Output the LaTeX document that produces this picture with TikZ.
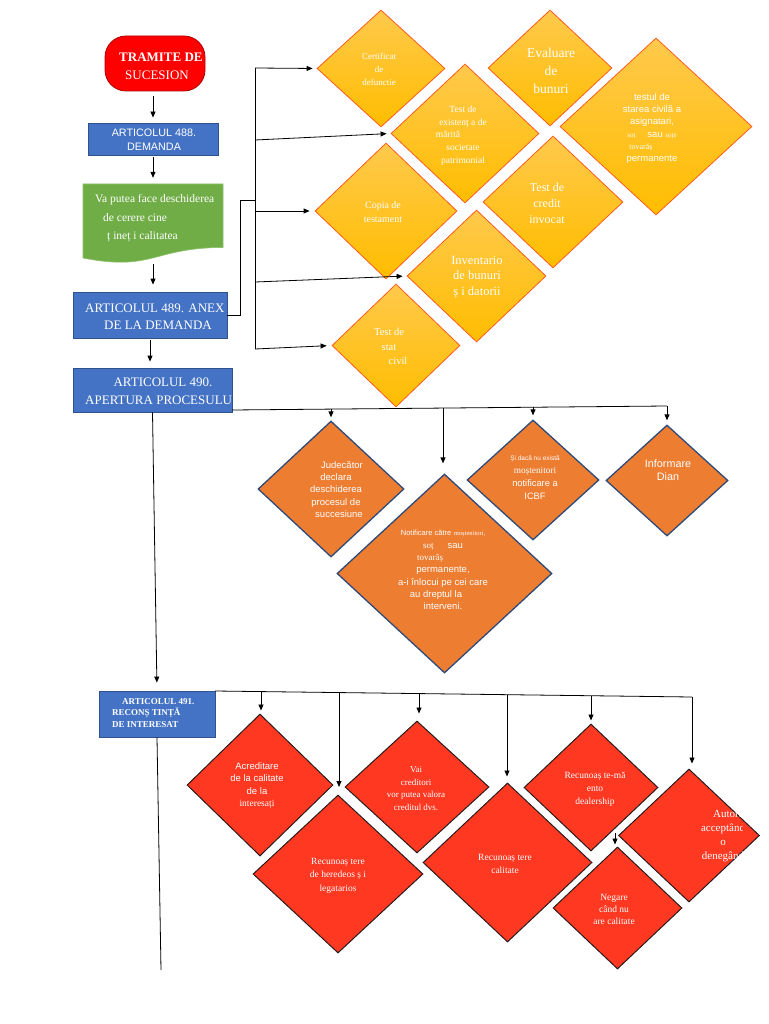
\documentclass[tikz,border=0pt]{standalone}
\usepackage{fontspec}
\setmainfont{Liberation Serif}
\setsansfont{Liberation Sans}
\usetikzlibrary{shapes.geometric,arrows.meta}
\definecolor{bluebox}{HTML}{4472C4}
\definecolor{blueedge}{HTML}{2F528F}
\definecolor{greenbox}{HTML}{70AD47}
\definecolor{greenedge}{HTML}{8CC168}
\definecolor{yelTop}{HTML}{FFC94C}
\definecolor{yelBot}{HTML}{FFBD00}
\definecolor{yelEdge}{HTML}{FF5A1E}
\definecolor{orgFill}{HTML}{ED7D31}
\definecolor{orgEdge}{HTML}{2F4A78}
\definecolor{redFill}{HTML}{FF3822}
\definecolor{redEdge}{HTML}{2A1A1A}
\definecolor{tramRed}{HTML}{FF0000}
\definecolor{tramEdge}{HTML}{B00000}
\tikzset{
  bluebx/.style={rectangle, fill=bluebox, draw=blueedge, line width=0.8pt, inner sep=0},
  ydiam/.style={diamond, inner sep=0, top color=yelTop, bottom color=yelBot, draw=yelEdge, line width=0.8pt},
  odiam/.style={diamond, inner sep=0, fill=orgFill, draw=orgEdge, line width=1.3pt},
  rdiam/.style={diamond, inner sep=0, fill=redFill, draw=redEdge, line width=1pt},
  txt/.style={text=white, align=center, inner sep=0},
  conn/.style={line width=0.8pt, draw=black},
  arr/.style={conn, -{Triangle[length=6pt,width=5pt]}},
}
\begin{document}
\begin{tikzpicture}[x=1pt,y=-1pt]
\useasboundingbox (0,0) rectangle (768,1024);

% ---------- left column ----------
\node[rectangle, rounded corners=21pt, fill=tramRed, draw=tramEdge, line width=0.8pt,
      minimum width=100pt, minimum height=55pt, inner sep=0] (tram) at (155,63.5) {};
\begin{scope}
  \clip (105,36) rectangle (205,91);
  \node[txt, anchor=west, font=\bfseries\fontsize{13}{15}\selectfont] (tTramA) at (119,57) {TRAMITE DE};
  \node[txt, font=\fontsize{13}{15}\selectfont] (tTramB) at (157,75) {SUCESION};
\end{scope}

\node[bluebx, minimum width=130pt, minimum height=32pt] (b488) at (153,139) {};
\node[txt, font=\sffamily\fontsize{10.8}{14}\selectfont] (t488) at (154,140) {ARTICOLUL 488.\\DEMANDA};

\path[fill=greenbox, draw=greenedge, line width=0.6pt]
  (83,184) -- (223,184) -- (223,247.5) .. controls (153,247.5) and (153,271.7) .. (83,258) -- cycle;
\node[inner sep=0, minimum width=140pt, minimum height=78pt] (doc) at (153,223) {};
\node[txt, align=left, anchor=west, font=\fontsize{11.5}{18.5}\selectfont] (tDoc) at (95,218.5)
  {Va putea face deschiderea\\\mbox{\hspace{8pt}de cerere cine}\\\mbox{\hspace{12pt}ț ineț i calitatea}};

\node[bluebx, minimum width=154pt, minimum height=46pt] (b489) at (150,315) {};
\begin{scope}
  \clip (73,292) rectangle (227,338);
  \node[txt, anchor=west, font=\fontsize{13}{15}\selectfont] (t489a) at (85,308) {ARTICOLUL 489. ANEX};
  \node[txt, font=\fontsize{13}{15}\selectfont] (t489b) at (158,325) {DE LA DEMANDA};
\end{scope}

\node[bluebx, minimum width=159pt, minimum height=44pt] (b490) at (152.5,390) {};
\begin{scope}
  \clip (73,368) rectangle (232,412);
  \node[txt, font=\fontsize{13}{15}\selectfont] (t490a) at (163,382) {ARTICOLUL 490.};
  \node[txt, anchor=west, font=\fontsize{13}{15}\selectfont] (t490b) at (85,400) {APERTURA PROCESULU};
\end{scope}

\node[bluebx, minimum width=116pt, minimum height=46pt] (b491) at (157,714) {};
\node[txt, align=left, anchor=west, font=\bfseries\fontsize{9}{11.5}\selectfont] (t491) at (112,713)
  {\mbox{\hspace{10pt}ARTICOLUL 491.}\\RECONȘ TINȚĂ\\DE INTERESAT};

% vertical arrows of left column
\draw[arr, shorten <=5pt, shorten >=5pt] (b488.north |- tram.south) -- (b488.north);
\draw[arr, shorten <=2pt, shorten >=6pt] (b488.south) -- (b488.south |- doc.north);
\draw[arr, shorten <=2pt, shorten >=7pt] (doc.south) -- (doc.south |- b489.north);
\draw[arr, shorten <=2pt, shorten >=6pt] (b489.south) -- (b489.south |- b490.north);
\draw[arr, shorten >=8pt] (b490.south) -- (b491.north);
\coordinate (endV) at (161,970);
\draw[conn] (b491.south) -- (endV);

% ---------- yellow diamonds ----------
\node[ydiam, minimum width=128pt, minimum height=117pt] (cert) at (381,68.5) {};
\node[ydiam, minimum width=124pt, minimum height=116pt] (eval) at (550,68) {};
\node[ydiam, minimum width=148pt, minimum height=139pt] (exist) at (465,133.5) {};
\node[ydiam, minimum width=192pt, minimum height=177pt] (testul) at (656,126.5) {};
\node[ydiam, minimum width=142pt, minimum height=136pt] (copia) at (386,211) {};
\node[ydiam, minimum width=140pt, minimum height=132pt] (credit) at (553,202) {};
\node[ydiam, minimum width=139pt, minimum height=132pt] (inv) at (476.5,276) {};
\node[ydiam, minimum width=128pt, minimum height=123pt] (stat) at (396,345.5) {};

\node[txt, font=\fontsize{9}{13}\selectfont] (tCert) at (379,69) {Certificat\\de\\defunctie};
\node[txt, font=\fontsize{13.5}{18}\selectfont] (tEval) at (551,71) {Evaluare\\de\\bunuri};
\node[txt, font=\fontsize{9.5}{12.7}\selectfont] (tExist) at (463,135.5)
  {Test de\\existenț a de\\\mbox{mărită\hspace{30pt}}\\societate\\patrimonial};
\node[txt, font=\sffamily\fontsize{9.5}{12.2}\selectfont] (tTestul) at (652,128.5)
  {testul de\\starea civilă a\\asignatari,\\{\rmfamily\fontsize{7}{8}\selectfont soț}\hspace{12pt}sau {\rmfamily\fontsize{7}{8}\selectfont soțe}\\\mbox{{\rmfamily\fontsize{8}{9}\selectfont tovarăș}\hspace{22pt}}\\permanente};
\node[txt, font=\fontsize{10}{14.5}\selectfont] (tCopia) at (383,212) {Copia de\\testament};
\node[txt, font=\fontsize{12}{16}\selectfont] (tCredit) at (547,203) {Test de\\credit\\invocat};
\node[txt, font=\fontsize{12.5}{15.5}\selectfont] (tInv) at (477,277) {Inventario\\de bunuri\\ș i datorii};
\node[txt, font=\fontsize{10.5}{14.5}\selectfont] (tStat) at (389,346.5) {Test de\\stat\\\mbox{\hspace{18pt}civil}};

% bracket connectors to yellow diamonds
\coordinate (jA) at (240,200);
\coordinate (jB) at (255,200);
\coordinate (spTop) at (255,68);
\coordinate (sp2) at (255,140);
\coordinate (sp3) at (255,211);
\coordinate (sp4) at (255,282);
\coordinate (spBot) at (255,349);
\draw[conn] (b489.east) -| (jA) -- (jB);
\draw[conn] (spTop) -- (spBot);
\draw[arr, shorten >=4pt] (spTop) -- (cert.west);
\draw[arr, shorten >=4pt] (sp2) -- (exist.west);
\draw[arr, shorten >=5pt] (sp3) -- (copia.west);
\draw[arr, shorten >=4pt] (sp4) -- (inv.west);
\draw[arr, shorten >=5pt] (spBot) -- (stat.west);

% ---------- orange diamonds ----------
\node[odiam, minimum width=146pt, minimum height=136pt] (jud) at (331,489) {};
\node[odiam, minimum width=215pt, minimum height=199pt] (notif) at (444.5,573.5) {};
\node[odiam, minimum width=132pt, minimum height=120pt] (sida) at (533,480) {};
\node[odiam, minimum width=122pt, minimum height=111pt] (dian) at (667,480.5) {};

\node[txt, font=\sffamily\fontsize{9.5}{12.2}\selectfont] (tJud) at (336,489.5)
  {\mbox{\hspace{12pt}Judecător}\\declara\\deschiderea\\procesul de\\\mbox{\hspace{6pt}succesiune}};
\node[txt, font=\sffamily\fontsize{9.5}{12.3}\selectfont] (tNotif) at (443,570)
  {{\fontsize{7.5}{9}\selectfont Notificare către} {\rmfamily\fontsize{6.5}{8}\selectfont moștenitori,}\\
   \mbox{{\rmfamily\fontsize{9}{10}\selectfont soț}\hspace{14pt}sau}\\
   \mbox{{\rmfamily\fontsize{9}{10}\selectfont tovarăș}\hspace{26pt}}\\
   permanente,\\a-i înlocui pe cei care\\\mbox{au dreptul la\hspace{14pt}}\\interveni.};
\node[txt, font=\sffamily\fontsize{9.3}{13}\selectfont] (tSida) at (535,478)
  {{\fontsize{6.5}{8}\selectfont Și dacă nu există}\\{\rmfamily moștenitori}\\notificare a\\ICBF};
\node[txt, font=\sffamily\fontsize{10.8}{13}\selectfont] (tDian) at (668,470) {Informare\\Dian};

% branch from ARTICOLUL 490
\coordinate (h1) at (232,410);
\coordinate (m1) at (331,409.1);
\coordinate (m2) at (443,408.1);
\coordinate (m3) at (533,407.2);
\coordinate (m4) at (667,406);
\draw[conn] (h1) -- (m4);
\draw[arr, shorten >=3pt] (m1) -- (m1 |- jud.north);
\draw[arr, shorten >=10pt] (m2) -- (m2 |- notif.north);
\draw[arr, shorten >=4pt] (m3) -- (m3 |- sida.north);
\draw[arr, shorten >=4pt] (m4) -- (m4 |- dian.north);

% ---------- red diamonds ----------
\node[rdiam, minimum width=146pt, minimum height=142pt] (acr) at (260,785) {};
\node[rdiam, minimum width=170pt, minimum height=158pt] (hered) at (338,874) {};
\node[rdiam, minimum width=144pt, minimum height=132pt] (vai) at (417,787) {};
\node[rdiam, minimum width=169pt, minimum height=159pt] (recal) at (507.5,862.5) {};
\node[rdiam, minimum width=134pt, minimum height=127pt] (recme) at (591,787.5) {};
\node[rdiam, minimum width=141pt, minimum height=133pt] (aut) at (689,835.5) {};
\node[rdiam, minimum width=129pt, minimum height=122pt] (neg) at (617.5,908) {};

\node[txt, font=\sffamily\fontsize{9.5}{12.3}\selectfont] (tAcr) at (257,785.5)
  {Acreditare\\de la calitate\\de la\\{\rmfamily interesați}};
\node[txt, font=\fontsize{9.5}{13.5}\selectfont] (tHered) at (338,875.5)
  {Recunoaș tere\\de heredeos ș i\\legatarios};
\node[txt, font=\fontsize{9}{12.8}\selectfont] (tVai) at (416,788.5)
  {Vai\\creditori\\vor putea valora\\creditul dvs.};
\node[txt, font=\fontsize{9.5}{13}\selectfont] (tRecal) at (505,863.5) {Recunoaș tere\\calitate};
\node[txt, font=\fontsize{9.5}{13}\selectfont] (tRecme) at (595,789) {Recunoaș te-mă\\ento\\dealership};
\node[txt, font=\fontsize{9.5}{12}\selectfont] (tNeg) at (614,909) {Negare\\când nu\\are calitate};
\begin{scope}
  \clip (640,800) rectangle (742,870);
  \node[txt, font=\fontsize{11}{14.3}\selectfont] (tAut) at (723,836)
    {\mbox{\hspace{9pt}Autori}\\acceptând\\o\\denegând};
\end{scope}

% branch from ARTICOLUL 491
\coordinate (n0) at (215,691);
\coordinate (n1) at (261,691.6);
\coordinate (n2) at (339,692.6);
\coordinate (n3) at (419,693.6);
\coordinate (n4) at (507,694.7);
\coordinate (n5) at (591,695.7);
\coordinate (n6) at (692,697);
\coordinate (n2e) at (339,787);
\coordinate (smA) at (615,833);
\draw[conn] (n0) -- (n6);
\draw[arr, shorten >=3pt] (n1) -- (n1 |- acr.north);
\draw[arr] (n2) -- (n2e);
\draw[arr, shorten >=7pt] (n3) -- (n3 |- vai.north);
\draw[arr, shorten >=6pt] (n4) -- (n4 |- recal.north);
\draw[arr, shorten >=3pt] (n5) -- (n5 |- recme.north);
\draw[arr, shorten >=5pt] (n6) -- (n6 |- aut.north);
\draw[arr, shorten >=2pt] (smA) -- (smA |- neg.north);
\end{tikzpicture}
\end{document}
